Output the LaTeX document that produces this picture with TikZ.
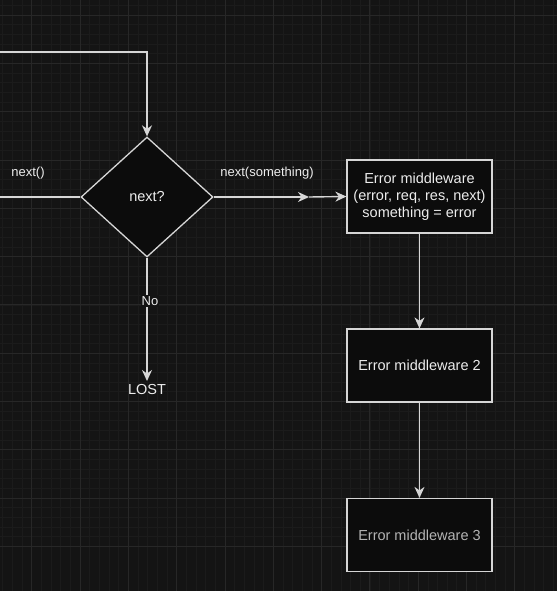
\documentclass[tikz,border=0pt]{standalone}
\usepackage{fontspec}
\setmainfont{Liberation Sans}
\usetikzlibrary{arrows.meta,shapes.geometric,calc}
\definecolor{bgc}{HTML}{141414}
\definecolor{gridminor}{HTML}{1B1B1B}
\definecolor{gridmajor}{HTML}{272727}
\definecolor{linec}{HTML}{D6D6D6}
\definecolor{textc}{HTML}{EDEDED}
\definecolor{boxfill}{HTML}{0C0C0C}
\definecolor{dimtext}{HTML}{B4B4B4}
\tikzset{
  conn/.style={draw=linec, line width=1.4pt},
  arr/.style={conn, -{Stealth[length=11pt,width=10pt,inset=3.5pt]}},
  mbox/.style={draw=linec, line width=1.2pt, fill=boxfill, minimum width=145pt, minimum height=73pt, text=textc, align=center, inner sep=0pt, font=\fontsize{14.5}{17}\selectfont},
  dia/.style={draw=linec, line width=1.3pt, fill=boxfill, diamond, minimum width=132pt, minimum height=120pt, inner sep=0pt, text=textc, font=\fontsize{14.5}{17}\selectfont, aspect=1.1},
  lbl/.style={text=textc, font=\fontsize{13}{15}\selectfont, inner sep=1pt},
}
\begin{document}
\begin{tikzpicture}[x=1pt,y=-1pt]
\useasboundingbox (0,0) rectangle (557,591);
\fill[bgc] (0,0) rectangle (557,591);
% grid
\foreach \i in {0,...,60} {
  \draw[gridminor, line width=0.5pt] ({-16.6+\i*9.66},0) -- ({-16.6+\i*9.66},591);
  \draw[gridminor, line width=0.5pt] (0,{-33.3+\i*9.66}) -- (557,{-33.3+\i*9.66});
}
\foreach \i in {0,...,12} {
  \draw[gridmajor, line width=0.8pt] ({-16.6+\i*48.3},0) -- ({-16.6+\i*48.3},591);
  \draw[gridmajor, line width=0.8pt] (0,{-33.3+\i*48.3}) -- (557,{-33.3+\i*48.3});
}
% nodes
\node[dia] (d) at (147,197) {next?};
\node[mbox] (e1) at (419.5,196.5) {Error middleware\\(error, req, res, next)\\something = error};
\node[mbox] (e2) at (419.5,365.5) {Error middleware 2};
\node[mbox, text=dimtext] (e3) at (419.5,535) {Error middleware 3};
\node[text=textc, font=\fontsize{14.5}{17}\selectfont, inner sep=1pt] (lost) at (147,390) {LOST};
\coordinate (topstart) at (0,52);
\coordinate (leftstart) at (0,197);
\coordinate (mid) at (309,197);
\coordinate (losttip) at (147,381);
% connectors
\draw[arr] (topstart) -| (d.north);
\draw[conn] (leftstart) -- (d.west);
\draw[arr] (d.east) -- (mid);
\draw[arr] (mid) -- (e1.west);
\draw[arr] (d.south) -- (losttip);
\draw[arr] (e1.south) -- (e2.north);
\draw[arr] (e2.south) -- (e3.north);
% labels
\node[lbl] (l1) at (28,173) {next()};
\node[lbl] (l2) at (267,173) {next(something)};
\node[lbl, fill=bgc] (l3) at (150,301) {No};
\end{tikzpicture}
\end{document}
